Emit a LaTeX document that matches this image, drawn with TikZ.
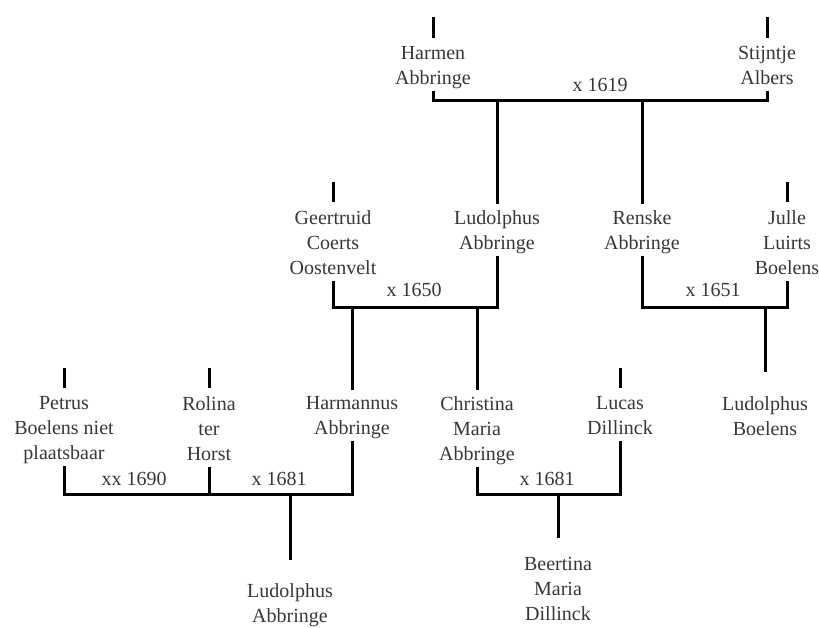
\documentclass[tikz,border=0pt]{standalone}
\usepackage{fontspec}
\setmainfont{Liberation Serif}
\usepackage{xcolor}
\usepackage{tikz}
\usetikzlibrary{calc}

\begin{document}
\begin{tikzpicture}[
x=1pt,
y=-1pt,
every node/.style={font=\fontsize{20}{25}\selectfont,text=black!78},
person/.style={align=center,anchor=north,inner sep=2pt,execute at end node={\vphantom{g}}},
wed/.style={anchor=base,inner sep=0pt},
link/.style={line width=3pt},
stub/.style={line width=3pt,shorten <=6pt}
]
\useasboundingbox[fill=white] (0,0) rectangle (819,628);

\node[person] (harmen) at (433,44) {Harmen\\Abbringe};
\node[person] (stijntje) at (767,44) {Stijntje\\Albers};
\node[person] (geertruid) at (333,208) {Geertruid\\Coerts\\Oostenvelt};
\node[person] (ludolphusA) at (497,208) {Ludolphus\\Abbringe};
\node[person] (renske) at (642,208) {Renske\\Abbringe};
\node[person] (julle) at (787,208) {Julle\\Luirts\\Boelens};
\node[person] (petrus) at (64,394) {Petrus\\Boelens niet\\plaatsbaar};
\node[person] (rolina) at (209,394) {Rolina\\ter\\Horst};
\node[person] (harmannus) at (352,394) {Harmannus\\Abbringe};
\node[person] (christina) at (477,394) {Christina\\Maria\\Abbringe};
\node[person] (lucas) at (620,394) {Lucas\\Dillinck};
\node[person] (ludolphusB) at (765,394) {Ludolphus\\Boelens};
\node[person] (ludolphusC) at (290,581) {Ludolphus\\Abbringe};
\node[person] (beertina) at (558,555) {Beertina\\Maria\\Dillinck};

\coordinate (m1619) at (600,101);
\coordinate (m1650) at (414,307);
\coordinate (m1651) at (765,307);
\coordinate (m1681a) at (290,494);
\coordinate (m1681b) at (558,494);

\node[wed] (w1619) at (600,92) {x 1619};
\node[wed] (w1650) at (414,297) {x 1650};
\node[wed] (w1651) at (713,297) {x 1651};
\node[wed] (w1690) at (134,485) {xx 1690};
\node[wed] (w1681a) at (279,485) {x 1681};
\node[wed] (w1681b) at (547,485) {x 1681};

% stubs of the ancestors not traced further
\draw[stub] (harmen.north) -- ++(0,-27);
\draw[stub] (stijntje.north) -- ++(0,-27);
\draw[stub] (geertruid.north) -- ++(0,-26);
\draw[stub] (julle.north) -- ++(0,-26);
\draw[stub] (petrus.north) -- ++(0,-26);
\draw[stub] (rolina.north) -- ++(0,-26);
\draw[stub] (lucas.north) -- ++(0,-26);

% marriages
\draw[link] (harmen.south) |- (m1619) -| (stijntje.south);
\draw[link] (geertruid.south) |- (m1650) -| (ludolphusA.south);
\draw[link] (renske.south) |- (m1651) -| (julle.south);
\draw[link] (petrus.south) |- (m1681a) -| (harmannus.south);
\draw[link] (rolina.south) -- (rolina.south |- m1681a);
\draw[link] (christina.south) |- (m1681b) -| (lucas.south);

% children
\draw[link,shorten >=4pt] (m1619 -| ludolphusA) -- (ludolphusA.north);
\draw[link,shorten >=4pt] (m1619 -| renske) -- (renske.north);
\draw[link,shorten >=4pt] (m1650 -| harmannus) -- (harmannus.north);
\draw[link,shorten >=4pt] (m1650 -| christina) -- (christina.north);
\draw[link,shorten >=22pt] (m1651) -- (ludolphusB.north);
\draw[link,shorten >=21pt] (m1681a) -- (ludolphusC.north);
\draw[link,shorten >=17pt] (m1681b) -- (beertina.north);
\end{tikzpicture}
\end{document}
